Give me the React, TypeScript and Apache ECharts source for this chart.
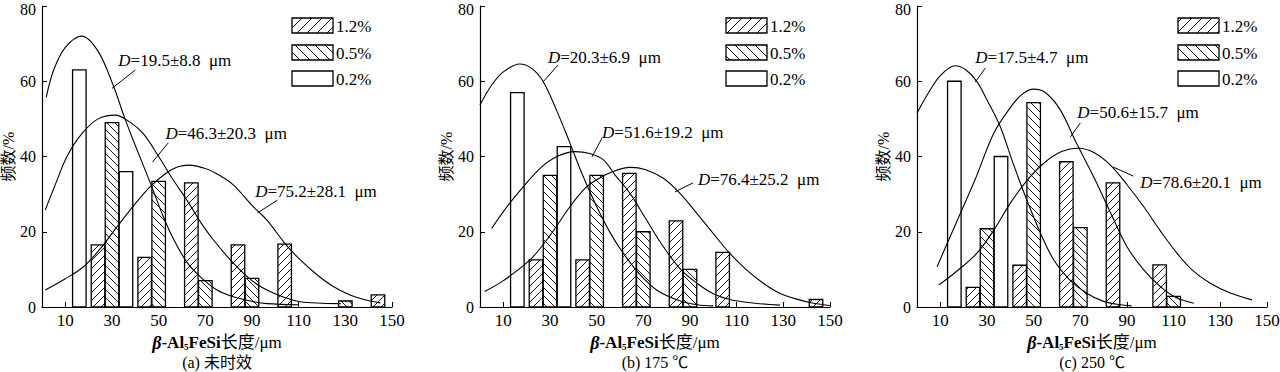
import React, { useEffect, useRef } from "react";
import * as echarts from "echarts";

// ---------- data ----------
const bins = [10, 30, 50, 70, 90, 110, 130, 150];
const xTickValues = [10, 30, 50, 70, 90, 110, 130, 150];
const seriesNames = ["1.2%", "0.5%", "0.2%"];
const panelCaptions = ["(a) 未时效", "(b) 175 ℃", "(c) 250 ℃"];

// frequency (%) per bin
const a12 = [0, 16.5, 13.2, 33.0, 16.5, 16.7, 0, 3.2];
const a05 = [0, 49.0, 33.4, 7.0, 7.6, 0, 1.6, 0];
const a02 = [63.0, 36.0, 0, 0, 0, 0, 0, 0];
const b12 = [0, 12.5, 12.5, 35.5, 22.9, 14.5, 0, 2.0];
const b05 = [0, 35.0, 35.0, 20.0, 10.0, 0, 0, 0];
const b02 = [57.0, 42.6, 0, 0, 0, 0, 0, 0];
const c12 = [0, 5.2, 11.1, 38.6, 33.0, 11.2, 0, 0];
const c05 = [0, 20.8, 54.3, 21.1, 0, 2.8, 0, 0];
const c02 = [60.0, 40.0, 0, 0, 0, 0, 0, 0];

// fitted distribution curves: [length, frequency]
const aFit02 = [[1.8, 55.7], [5, 63], [10, 69], [17, 72], [24, 68], [30.7, 58.6], [35, 51], [39.3, 44], [46.4, 33], [52, 24], [56.4, 18], [62, 12], [67.9, 8], [75, 4.5], [82, 2.7], [90, 1.5], [96.4, 0.9], [110, 0.6]];
const aFit05 = [[1.4, 25.8], [6, 33], [10.7, 40], [17, 46], [24, 50], [31.4, 51], [38, 49], [43.5, 46], [50, 40], [56, 34], [62.1, 28.4], [68, 22.5], [73.5, 17.8], [82.1, 11.6], [90, 7], [96.4, 4.5], [104, 2.5], [110.7, 1.4], [120, 1], [128, 0.9]];
const aFit12 = [[1.4, 4.5], [10, 7.5], [17.8, 10.7], [25, 15.5], [32.1, 21.3], [40, 27.5], [46.4, 32], [53, 35.5], [58, 37.2], [62.8, 37.7], [70, 36.8], [76, 35], [82.1, 32.4], [90, 27], [96.4, 23.1], [104, 17], [110.7, 12.5], [118, 8.5], [125, 5.4], [135, 2.5], [145, 1.1]];

const bFit02 = [[0, 53.7], [5, 59], [10, 62.5], [17, 64.6], [22, 63.5], [27, 60], [33, 52], [38.6, 43.5], [44, 35], [50, 26.7], [56, 19.5], [61.4, 14.3], [68, 9], [75.7, 4.5], [84, 2], [93, 0.6], [100, 0.3]];
const bFit05 = [[5, 20.9], [12, 27], [18.6, 32], [26, 37], [33, 40], [40.7, 41.3], [47, 40.8], [52.9, 39.1], [58, 35], [64.3, 30.2], [71, 23.5], [78.6, 16], [86, 10], [93, 6.3], [100, 3.5], [107, 2], [118, 1], [128.6, 0.5]];
const bFit12 = [[2, 4.1], [10, 7], [21.4, 12.5], [30, 19], [38.6, 26.7], [45, 31.5], [50, 33.8], [57, 36], [64.3, 37.1], [71, 36.5], [78.6, 34.2], [86, 30], [92.9, 24.9], [100, 19.5], [107, 14.3], [114, 10], [121.4, 6.3], [128, 3.8], [135.7, 2.1], [143, 1], [150, 0.4]];

const cFit02 = [[0, 51.5], [5, 57], [10, 61.5], [16.4, 64.1], [21, 63], [25.7, 59.9], [30, 55], [35.7, 47.9], [41, 38.5], [47.1, 28.4], [53, 19.5], [58.6, 12.5], [65, 7.5], [72.9, 3.6], [80, 1.5], [87, 0.6], [92, 0.3]];
const cFit05 = [[8.6, 10.7], [13, 17], [18.6, 24.9], [25, 34], [32.9, 46.2], [40, 53], [45, 56.5], [50, 57.9], [55, 57], [61.4, 52.4], [68, 44], [75.7, 34.6], [83, 25], [90, 16], [97, 10], [104.3, 5.4], [111, 2.5], [118.6, 1]];
const cFit12 = [[9.3, 5.8], [17, 9.5], [25.7, 14.3], [33, 20.5], [40, 27.6], [47, 33.5], [54.3, 38.2], [62, 41.3], [69.3, 42.2], [76, 41], [82.9, 37.7], [90, 32.5], [97.1, 26.7], [104, 20.5], [111.4, 14.3], [118, 9.8], [125.7, 6.3], [134, 3.8], [143.6, 1.9]];

const aLabels = ["19.5±8.8", "46.3±20.3", "75.2±28.1"];
const bLabels = ["20.3±6.9", "51.6±19.2", "76.4±25.2"];
const cLabels = ["17.5±4.7", "50.6±15.7", "78.6±20.1"];

// ---------- layout / style ----------
const SERIF = '"Liberation Serif", "Times New Roman", "Noto Sans CJK SC", serif';
const CJK = '"Liberation Serif", "Noto Sans CJK SC", serif';
const GRID_LEFT = [42, 480, 917];
const GRID_TOP = 6;
const GRID_W = 350;
const GRID_H = 301;
const LEGEND_LEFT = [292, 726, 1178];
const LEGEND_TOPS = [18, 45, 71];
const BAR_OFFSETS = [-6, 0, 6]; // data units: 1.2%, 0.5%, 0.2%
const BAR_W = 5.8;
const HATCH = ["/", "\\", ""];

// annotation anchors in data coordinates: text start, leader from, leader to
const NOTE_POS = [
  [
    { t: [32.7, 65.4], a: [40.0, 63.0], b: [30.0, 58.1] },
    { t: [52.9, 46.2], a: [54.1, 43.6], b: [47.3, 38.5] },
    { t: [91.4, 30.6], a: [100.9, 28.4], b: [92.3, 25.0] },
  ],
  [
    { t: [29.1, 66.2], a: [33.4, 64.3], b: [27.0, 59.8] },
    { t: [52.3, 46.5], a: [52.3, 44.9], b: [48.0, 39.9] },
    { t: [93.4, 33.8], a: [91.3, 33.0], b: [83.6, 30.6] },
  ],
  [
    { t: [25.0, 66.2], a: [29.3, 63.5], b: [25.0, 59.8] },
    { t: [68.7, 51.6], a: [70.0, 48.9], b: [65.7, 45.2] },
    { t: [95.7, 33.0], a: [92.7, 34.8], b: [84.1, 37.2] },
  ],
];

function hatchLines(x0: number, y0: number, x1: number, y1: number, dir: string, step: number, lw: number) {
  const out: any[] = [];
  if (!dir) return out;
  if (dir === "/") {
    const cStart = Math.ceil((x0 + y0) / step) * step;
    for (let c = cStart; c < x1 + y1; c += step) {
      const xa = Math.max(x0, c - y1);
      const xb = Math.min(x1, c - y0);
      if (xb - xa > 0.3) out.push({ type: "line", shape: { x1: xa, y1: c - xa, x2: xb, y2: c - xb }, style: { stroke: "#000", lineWidth: lw } });
    }
  } else {
    const cStart = Math.ceil((x0 - y1) / step) * step;
    for (let c = cStart; c < x1 - y0; c += step) {
      const xa = Math.max(x0, c + y0);
      const xb = Math.min(x1, c + y1);
      if (xb - xa > 0.3) out.push({ type: "line", shape: { x1: xa, y1: xa - c, x2: xb, y2: xb - c }, style: { stroke: "#000", lineWidth: lw } });
    }
  }
  return out;
}

function barRenderer(k: number) {
  return (params: any, api: any) => {
    const bin = api.value(0);
    const val = api.value(1);
    if (!val) return null;
    const top = api.coord([bin + BAR_OFFSETS[k], val]);
    const base = api.coord([bin + BAR_OFFSETS[k], 0]);
    const w = api.size([BAR_W, 0])[0];
    const x0 = top[0] - w / 2;
    const x1 = top[0] + w / 2;
    const y0 = top[1];
    const y1 = base[1];
    const children: any[] = [
      { type: "rect", shape: { x: x0, y: y0, width: w, height: y1 - y0 }, style: { fill: "#fff", stroke: "none" } },
      ...hatchLines(x0, y0, x1, y1, HATCH[k], 8, 0.9),
      { type: "rect", shape: { x: x0, y: y0, width: w, height: y1 - y0 }, style: { fill: "none", stroke: "#000", lineWidth: 1.3 } },
    ];
    return { type: "group", children };
  };
}

export default function App() {
  const ref = useRef<HTMLDivElement>(null);
  useEffect(() => {
    document.body.style.margin = "0";
    if (!ref.current) return;
    const chart = echarts.init(ref.current, null, { renderer: "svg" });

    const panels = [
      { bars: [a12, a05, a02], fits: [aFit12, aFit05, aFit02], labels: aLabels },
      { bars: [b12, b05, b02], fits: [bFit12, bFit05, bFit02], labels: bLabels },
      { bars: [c12, c05, c02], fits: [cFit12, cFit05, cFit02], labels: cLabels },
    ];

    const grid: any[] = [];
    const xAxis: any[] = [];
    const yAxis: any[] = [];
    const series: any[] = [];

    panels.forEach((p, i) => {
      grid.push({ left: GRID_LEFT[i], top: GRID_TOP, width: GRID_W, height: GRID_H, outerBoundsMode: "none", containLabel: false });
      xAxis.push({
        type: "value",
        gridIndex: i,
        min: 0,
        max: 150,
        splitLine: { show: false },
        axisLine: { show: true, lineStyle: { color: "#000", width: 1.2 } },
        axisTick: { show: true, inside: true, length: 5, customValues: xTickValues, lineStyle: { color: "#000" } },
        axisLabel: { customValues: xTickValues, color: "#000", fontFamily: SERIF, fontSize: 17, margin: 5 },
        name: "{it|β}{b|-Al}{s|5}{b|FeSi}{n|长度/}{n|μm}",
        nameLocation: "middle",
        nameGap: 22,
        nameTextStyle: {
          color: "#000",
          rich: {
            it: { fontFamily: SERIF, fontSize: 18, fontStyle: "italic", fontWeight: "bold", color: "#000" },
            b: { fontFamily: SERIF, fontSize: 17, fontWeight: "bold", color: "#000" },
            s: { fontFamily: SERIF, fontSize: 9, fontWeight: "bold", verticalAlign: "bottom", padding: [8, 0, 0, 0], color: "#000" },
            n: { fontFamily: CJK, fontSize: 17, color: "#000" },
          },
        },
      });
      yAxis.push({
        type: "value",
        gridIndex: i,
        min: 0,
        max: 80,
        interval: 20,
        splitLine: { show: false },
        axisLine: { show: true, lineStyle: { color: "#000", width: 1.2 } },
        axisTick: { show: true, inside: true, length: 5, lineStyle: { color: "#000" } },
        axisLabel: {
          color: "#000",
          fontFamily: SERIF,
          fontSize: 16,
          margin: 6,
          formatter: (v: number) => (v === 80 ? "{t|80}" : String(v)),
          rich: { t: { fontFamily: SERIF, fontSize: 16, color: "#000", padding: [6, 0, 0, 0] } },
        },
        name: "频数/%",
        nameLocation: "middle",
        nameGap: 25,
        nameTextStyle: { color: "#000", fontFamily: CJK, fontSize: 16 },
      });
      p.bars.forEach((vals, k) => {
        series.push({
          type: "custom",
          name: seriesNames[k] + "-" + i,
          xAxisIndex: i,
          yAxisIndex: i,
          coordinateSystem: "cartesian2d",
          renderItem: barRenderer(k),
          encode: { x: 0, y: 1 },
          data: bins.map((b, j) => [b, vals[j]]),
          z: 2,
          silent: true,
        });
      });
      p.fits.forEach((pts, k) => {
        series.push({
          type: "line",
          name: "fit" + k + "-" + i,
          xAxisIndex: i,
          yAxisIndex: i,
          data: pts,
          smooth: 0.35,
          showSymbol: false,
          symbol: "none",
          lineStyle: { color: "#000", width: 1.1 },
          z: 5,
          silent: true,
        });
      });
    });

    chart.setOption({
      animation: false,
      backgroundColor: "#fff",
      grid,
      xAxis,
      yAxis,
      series,
    });

    const graphic: any[] = [];
    panels.forEach((p, i) => {
      // annotations
      NOTE_POS[i].forEach((n, k) => {
        const t = chart.convertToPixel({ gridIndex: i } as any, n.t) as any;
        const a = chart.convertToPixel({ gridIndex: i } as any, n.a) as any;
        const b = chart.convertToPixel({ gridIndex: i } as any, n.b) as any;
        graphic.push({ type: "line", z: 20, shape: { x1: a[0], y1: a[1], x2: b[0], y2: b[1] }, style: { stroke: "#000", lineWidth: 1 } });
        graphic.push({
          type: "text",
          z: 20,
          x: t[0],
          y: t[1],
          style: {
            text: `{i|D}{n|=${p.labels[k]}  μm}`,
            verticalAlign: "middle",
            fill: "#000",
            rich: {
              i: { fontFamily: SERIF, fontSize: 17, fontStyle: "italic", fill: "#000" },
              n: { fontFamily: SERIF, fontSize: 17, fill: "#000" },
            },
          },
        });
      });
      // legend
      seriesNames.forEach((nm, k) => {
        const x0 = LEGEND_LEFT[i];
        const y0 = LEGEND_TOPS[k];
        const w = 41;
        const h = 15;
        graphic.push({
          type: "group",
          z: 20,
          children: [
            { type: "rect", shape: { x: x0, y: y0, width: w, height: h }, style: { fill: "#fff" } },
            ...hatchLines(x0, y0, x0 + w, y0 + h, HATCH[k], 10, 1),
            { type: "rect", shape: { x: x0, y: y0, width: w, height: h }, style: { fill: "none", stroke: "#000", lineWidth: 1.3 } },
          ],
        });
        graphic.push({
          type: "text",
          z: 20,
          x: x0 + w + 3,
          y: y0 + h / 2 + 1,
          style: { text: nm, fontFamily: SERIF, fontSize: 17, fill: "#000", verticalAlign: "middle" },
        });
      });
      // caption
      graphic.push({
        type: "text",
        z: 20,
        x: GRID_LEFT[i] + GRID_W / 2,
        y: 362,
        style: { text: panelCaptions[i], fontFamily: CJK, fontSize: 16, fill: "#000", align: "center", verticalAlign: "middle" },
      });
    });
    chart.setOption({ graphic });

    return () => chart.dispose();
  }, []);
  return <div ref={ref} style={{ width: 1280, height: 372 }} />;
}
